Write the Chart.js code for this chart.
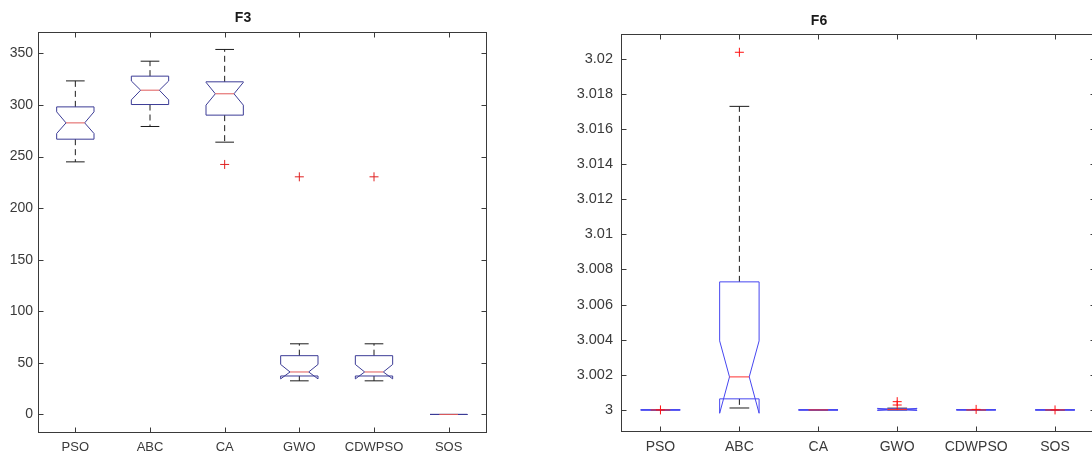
<!DOCTYPE html>
<html>
<head>
<meta charset="utf-8">
<script src="https://cdn.jsdelivr.net/npm/chart.js@4.4.1/dist/chart.umd.min.js"></script>
<style>
  html, body { margin: 0; padding: 0; background: #fff; overflow: hidden; width: 1092px; height: 457px; }
  #f3 { position: absolute; left: 0; top: 0; }
  #f6 { position: absolute; left: 540px; top: 0; }
</style>
</head>
<body>
<canvas id="f3" width="500" height="457"></canvas>
<canvas id="f6" width="560" height="457"></canvas>
<script>
const algos = ['PSO', 'ABC', 'CA', 'GWO', 'CDWPSO', 'SOS'];

// F3 box statistics, one entry per algorithm
const f3Lower   = [244.9, 279.2, 264.0, 32.6, 32.6, 0];
const f3Q1      = [266.9, 300.5, 290.2, 37.3, 37.3, 0];
const f3Median  = [282.7, 314.4, 310.9, 41.2, 41.2, 0];
const f3Q3      = [298.2, 328.0, 322.5, 57.0, 57.0, 0];
const f3Upper   = [323.4, 342.5, 353.9, 68.5, 68.5, 0];
const f3NotchLo = [272.4, 305.0, 299.9, 34.5, 34.5, 0];
const f3NotchHi = [293.4, 323.3, 322.0, 48.5, 48.5, 0];
const f3OutCat  = ['CA', 'GWO', 'CDWPSO'];
const f3OutVal  = [242.4, 230.4, 230.4];
const f3Ticks   = [0, 50, 100, 150, 200, 250, 300, 350];

// F6 box statistics
const f6Lower   = [3, 3.00011, 3, 3.0000, 3, 3];
const f6Q1      = [3, 3.00063, 3, 2.99999, 3, 3];
const f6Median  = [3, 3.00188, 3, 3.00003, 3, 3];
const f6Q3      = [3, 3.00729, 3, 3.00006, 3.00001, 3];
const f6Upper   = [3, 3.01728, 3, 3.0001, 3.00001, 3];
const f6NotchLo = [3, 2.99981, 3, 2.99997, 3, 3];
const f6NotchHi = [3, 3.00393, 3, 3.00009, 3.00001, 3];
const f6OutCat  = ['PSO', 'ABC', 'GWO', 'GWO', 'CDWPSO', 'SOS'];
const f6OutVal  = [3.0, 3.02036, 3.00047, 3.00028, 3.00003, 3.0];
const f6Ticks   = [3, 3.002, 3.004, 3.006, 3.008, 3.01, 3.012, 3.014, 3.016, 3.018, 3.02];

const FONT = '"Liberation Sans", Arial, Helvetica, sans-serif';

// notched boxes in the MATLAB style: dashed whiskers, caps, folded notch polygon, median
const notchBoxes = {
  id: 'notchBoxes',
  beforeDatasetsDraw(chart, args, opts) {
    const ctx = chart.ctx;
    const xs = chart.scales.x, ys = chart.scales.y;
    const step = xs.getPixelForValue(1) - xs.getPixelForValue(0);
    const half = step * 0.25, nh = half / 2, cap = half / 2;
    const py = v => ys.getPixelForValue(v);
    const line = (x1, y1, x2, y2) => { ctx.beginPath(); ctx.moveTo(x1, y1); ctx.lineTo(x2, y2); ctx.stroke(); };
    ctx.save();
    ctx.lineWidth = 1;
    opts.median.forEach((m, i) => {
      const x = xs.getPixelForValue(i);
      ctx.strokeStyle = opts.whiskerColor;
      ctx.setLineDash(opts.dash);
      line(x, py(opts.q3[i]), x, py(opts.upper[i]));
      line(x, py(opts.q1[i]), x, py(opts.lower[i]));
      ctx.setLineDash([]);
      line(x - cap, py(opts.upper[i]), x + cap, py(opts.upper[i]));
      line(x - cap, py(opts.lower[i]), x + cap, py(opts.lower[i]));

      const pts = [
        [x - half, opts.q1[i]], [x - half, opts.notchLo[i]], [x - nh, m],
        [x - half, opts.notchHi[i]], [x - half, opts.q3[i]], [x + half, opts.q3[i]],
        [x + half, opts.notchHi[i]], [x + nh, m], [x + half, opts.notchLo[i]],
        [x + half, opts.q1[i]]
      ];
      ctx.strokeStyle = opts.boxColor;
      ctx.beginPath();
      pts.forEach((p, k) => k ? ctx.lineTo(p[0], py(p[1])) : ctx.moveTo(p[0], py(p[1])));
      ctx.closePath();
      ctx.stroke();

      ctx.strokeStyle = opts.medianColor;
      line(x - nh, py(m), x + nh, py(m));
    });
    ctx.restore();
  },
  afterDraw(chart, args, opts) {
    // axes box with inward ticks on every side
    const ctx = chart.ctx, a = chart.chartArea;
    const xs = chart.scales.x, ys = chart.scales.y;
    const L = Math.round(a.left) + 0.5, R = Math.round(a.right) + 0.5;
    const T = Math.round(a.top) + 0.5, B = Math.round(a.bottom) + 0.5;
    const tl = 5;
    ctx.save();
    ctx.strokeStyle = '#3a3a3a';
    ctx.lineWidth = 1;
    ctx.strokeRect(L, T, R - L, B - T);
    ctx.beginPath();
    algos.forEach((c, i) => {
      const x = Math.round(xs.getPixelForValue(i)) + 0.5;
      ctx.moveTo(x, B); ctx.lineTo(x, B - tl);
      ctx.moveTo(x, T); ctx.lineTo(x, T + tl);
    });
    ys.ticks.forEach(t => {
      const y = Math.round(ys.getPixelForValue(t.value)) + 0.5;
      ctx.moveTo(L, y); ctx.lineTo(L + tl, y);
      ctx.moveTo(R, y); ctx.lineTo(R - tl, y);
    });
    ctx.stroke();
    ctx.restore();
  }
};

function makeChart(id, cfg) {
  return new Chart(document.getElementById(id), {
    type: 'scatter',
    data: {
      labels: algos,
      datasets: [{
        data: cfg.outCat.map((c, i) => ({ x: c, y: cfg.outVal[i] })),
        pointStyle: 'cross',
        pointRadius: 4.5,
        pointBorderWidth: 1,
        pointBorderColor: cfg.outColor,
        pointBackgroundColor: cfg.outColor
      }]
    },
    options: {
      responsive: false,
      animation: false,
      layout: { padding: { left: 0, right: cfg.padRight, top: 0, bottom: 0 } },
      plugins: {
        legend: { display: false },
        tooltip: { enabled: false },
        title: {
          display: true,
          text: cfg.title,
          color: '#1a1a1a',
          font: { family: FONT, size: 14, weight: 'bold' },
          padding: cfg.titlePad
        },
        notchBoxes: {
          lower: cfg.lower, q1: cfg.q1, median: cfg.median, q3: cfg.q3, upper: cfg.upper,
          notchLo: cfg.notchLo, notchHi: cfg.notchHi,
          boxColor: cfg.boxColor, medianColor: cfg.medianColor,
          whiskerColor: '#1c1c1c', dash: [6, 4]
        }
      },
      scales: {
        x: {
          type: 'category',
          labels: algos,
          offset: true,
          grid: { display: false, drawTicks: false },
          border: { display: false },
          ticks: { color: '#3a3a3a', font: { family: FONT, size: cfg.xFont }, padding: cfg.xPad, maxRotation: 0, autoSkip: false },
          afterFit: s => { s.height = cfg.xHeight; }
        },
        y: {
          min: cfg.yMin,
          max: cfg.yMax,
          grid: { display: false, drawTicks: false },
          border: { display: false },
          afterBuildTicks: s => { s.ticks = cfg.ticks.map(v => ({ value: v })); },
          ticks: {
            color: '#3a3a3a',
            font: { family: FONT, size: cfg.yFont },
            padding: cfg.yPad,
            callback: v => String(+(+v).toFixed(3))
          },
          afterFit: s => { s.width = cfg.yWidth; }
        }
      }
    },
    plugins: [notchBoxes]
  });
}

makeChart('f3', {
  title: 'F3', titlePad: { top: 10, bottom: 5 },
  lower: f3Lower, q1: f3Q1, median: f3Median, q3: f3Q3, upper: f3Upper,
  notchLo: f3NotchLo, notchHi: f3NotchHi, outCat: f3OutCat, outVal: f3OutVal,
  ticks: f3Ticks, yMin: -17, yMax: 371,
  boxColor: '#3c3c96', medianColor: '#e05a5a', outColor: '#e02020',
  xFont: 13, yFont: 14, xPad: 8, yPad: 5, xHeight: 25, yWidth: 38, padRight: 14
});

makeChart('f6', {
  title: 'F6', titlePad: { top: 12.6, bottom: 4.6 },
  lower: f6Lower, q1: f6Q1, median: f6Median, q3: f6Q3, upper: f6Upper,
  notchLo: f6NotchLo, notchHi: f6NotchHi, outCat: f6OutCat, outVal: f6OutVal,
  ticks: f6Ticks, yMin: 2.9988, yMax: 3.0214,
  boxColor: '#4646f0', medianColor: '#ff3030', outColor: '#ff1010',
  xFont: 14, yFont: 14.5, xPad: 8, yPad: 8, xHeight: 26, yWidth: 81, padRight: 2
});
</script>
</body>
</html>
